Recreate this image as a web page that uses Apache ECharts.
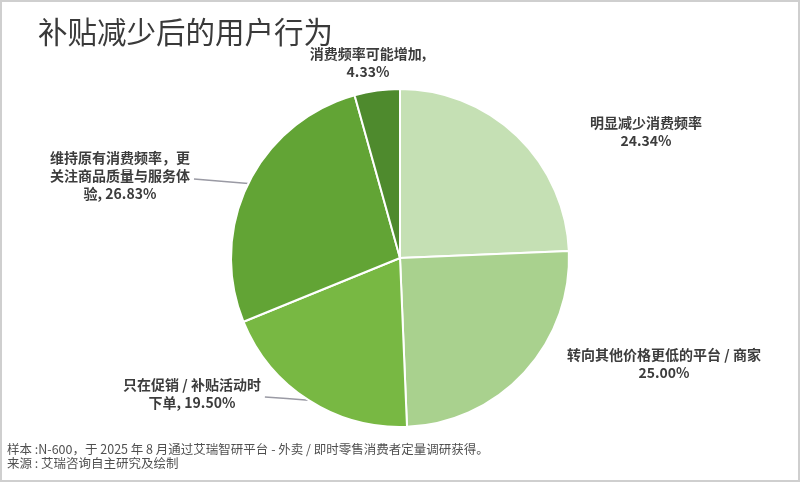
<!DOCTYPE html>
<html>
<head>
<meta charset="utf-8">
<script src="https://cdn.jsdelivr.net/npm/echarts@6/dist/echarts.min.js"></script>
<style>
html,body{margin:0;padding:0;background:#fff;}
#chart{width:800px;height:482px;}
</style>
</head>
<body>
<div id="chart"></div>
<script>
// ---- data ----
const categories = [
  '明显减少消费频率',
  '转向其他价格更低的平台 / 商家',
  '只在促销 / 补贴活动时\n下单',
  '维持原有消费频率，更\n关注商品质量与服务体\n验',
  '消费频率可能增加'
];
const values = [24.34, 25.00, 19.50, 26.83, 4.33];
const labelSeparators = ['\n', '\n', ', ', ', ', ',\n'];
const titleText = '补贴减少后的用户行为';
const footnotes = [
  '样本 :N-600，于 2025 年 8 月通过艾瑞智研平台 - 外卖 / 即时零售消费者定量调研获得。',
  '来源 : 艾瑞咨询自主研究及绘制'
];

// ---- styles / layout ----
const colors = ['#c5e0b4', '#a9d18e', '#78b843', '#62a435', '#4e8a2d'];
const labelPos = [[646, 132], [664, 364], [192, 394], [120, 176], [368, 63]];
const showLine = [false, false, true, true, false];
const lineEndOffset = [0, 0, 4, 4, 0];

const chart = echarts.init(document.getElementById('chart'));
const font = '"Noto Sans CJK SC", "Noto Sans", sans-serif';

chart.setOption({
  backgroundColor: '#ffffff',
  animation: false,
  title: {
    text: titleText,
    left: 33,
    top: 12,
    textStyle: { fontSize: 29.5, fontWeight: 'normal', color: '#3a3a3a', fontFamily: font }
  },
  graphic: [
    {
      type: 'rect', silent: true,
      shape: { x: 1, y: 1, width: 798, height: 480 },
      style: { fill: 'none', stroke: '#cfcfcf', lineWidth: 2 }
    },
    {
      type: 'text', left: 7, top: 443,
      style: { text: footnotes[0], fill: '#505050', font: '12.5px ' + font }
    },
    {
      type: 'text', left: 7, top: 457,
      style: { text: footnotes[1], fill: '#505050', font: '12.5px ' + font }
    }
  ],
  series: [{
    type: 'pie',
    center: [400, 258],
    radius: 169,
    startAngle: 90,
    clockwise: true,
    avoidLabelOverlap: false,
    itemStyle: { borderColor: '#ffffff', borderWidth: 2 },
    label: {
      show: true,
      position: 'outside',
      fontFamily: font,
      fontSize: 14,
      fontWeight: 'bold',
      color: '#3c3c3c',
      lineHeight: 18,
      align: 'center',
      formatter: function (p) {
        return p.name + labelSeparators[p.dataIndex] + p.value.toFixed(2) + '%';
      }
    },
    labelLine: {
      show: true,
      length: 10,
      length2: 10,
      lineStyle: { color: '#9a9aa4', width: 1.5 }
    },
    labelLayout: function (params) {
      const i = params.dataIndex;
      const res = {
        x: labelPos[i][0],
        y: labelPos[i][1],
        align: 'center',
        verticalAlign: 'middle'
      };
      if (showLine[i] && params.labelLinePoints) {
        const p0 = params.labelLinePoints[0];
        const rectW = params.labelRect.width;
        const end = [labelPos[i][0] + rectW / 2 + lineEndOffset[i], labelPos[i][1] + 3];
        res.labelLinePoints = [p0, [(p0[0] + end[0]) / 2, (p0[1] + end[1]) / 2], end];
      }
      return res;
    },
    data: categories.map(function (c, i) {
      return {
        name: c,
        value: values[i],
        itemStyle: { color: colors[i] },
        labelLine: { show: showLine[i] }
      };
    })
  }]
});
</script>
</body>
</html>
